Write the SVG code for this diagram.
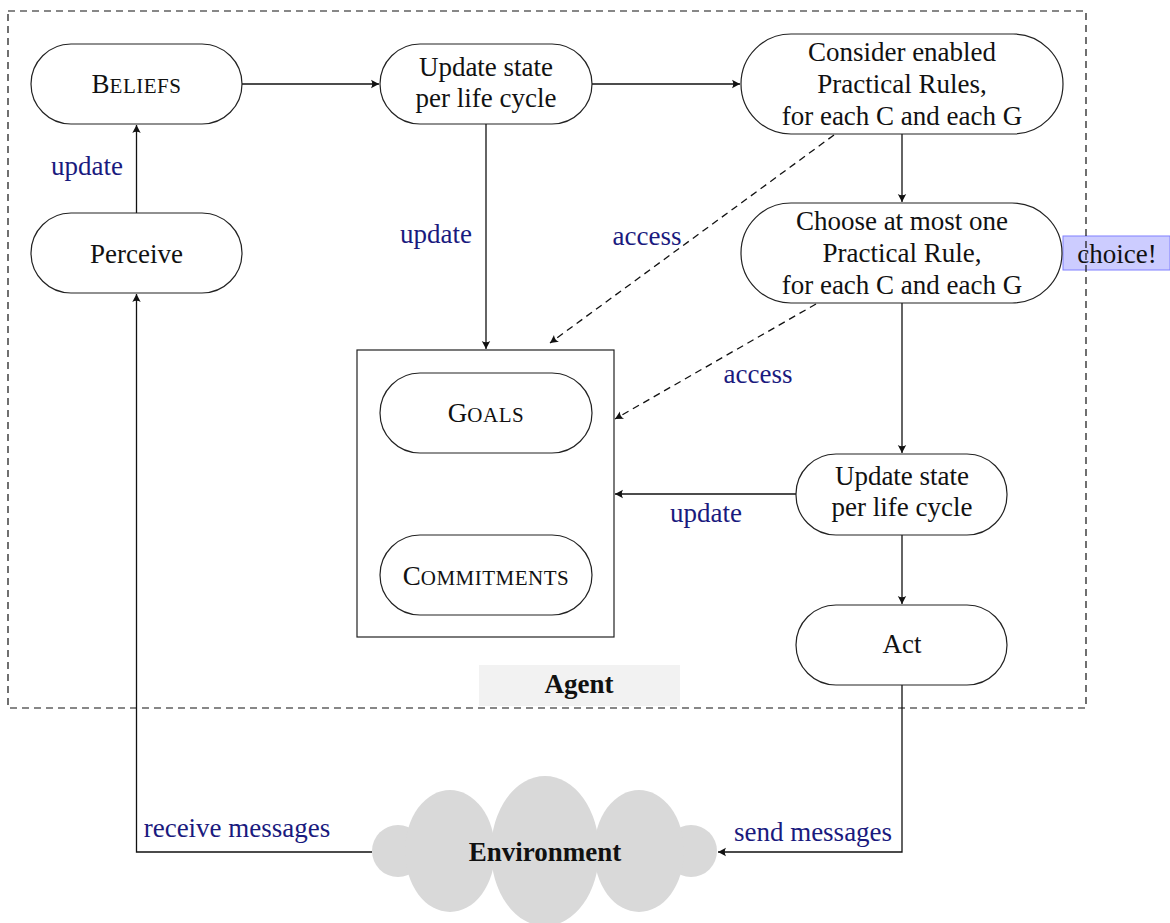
<svg xmlns="http://www.w3.org/2000/svg" width="1170" height="923" viewBox="0 0 1170 923">
<style>
text{font-family:"Liberation Serif","Times New Roman",serif;font-size:27px;fill:#111;text-anchor:middle}
.s{font-size:21px;letter-spacing:0.5px}
.lbl{fill:#1a1a7e}
.b{font-weight:bold}
.node{fill:#fff;stroke:#222;stroke-width:1.2}
.edge{fill:none;stroke:#111;stroke-width:1.3;marker-end:url(#arr)}
.dash{stroke-dasharray:7 5}
.cloud{fill:#d9d9d9}
</style>
<defs>
<marker id="arr" viewBox="-10 -6 12 12" refX="0" refY="0" markerWidth="12" markerHeight="12" markerUnits="userSpaceOnUse" orient="auto">
<path d="M0,0 L-8,-4.2 Q-5.5,0 -8,4.2 Z" fill="#111"/>
</marker>
</defs>
<rect width="1170" height="923" fill="#fff"/>

<g id="agent-frame">
<rect x="479" y="665" width="201" height="41" fill="#f2f2f2"/>
<text x="579" y="693" class="b">Agent</text>
</g>

<g id="choice-tag">
<rect x="1063" y="236" width="107" height="34" fill="#ccccff" stroke="#8080ff" stroke-width="1"/>
<text x="1117" y="263">choice!</text>
</g>

<rect x="8" y="11" width="1078" height="697" fill="none" stroke="#111" stroke-width="1.2" stroke-dasharray="7 5"/>

<g id="connectors">
<line class="edge" x1="242" y1="84" x2="379" y2="84"/>
<line class="edge" x1="592" y1="84" x2="740" y2="84"/>
<line class="edge" x1="902" y1="134" x2="902" y2="202"/>
<line class="edge" x1="136.5" y1="213" x2="136.5" y2="125"/>
<line class="edge" x1="486" y1="124" x2="486" y2="349"/>
<line class="edge dash" x1="834" y1="135" x2="550" y2="343"/>
<line class="edge dash" x1="816" y1="304" x2="615" y2="419"/>
<line class="edge" x1="902" y1="303" x2="902" y2="453"/>
<line class="edge" x1="796" y1="494" x2="615" y2="494"/>
<line class="edge" x1="902" y1="535" x2="902" y2="604"/>
<polyline class="edge" points="902,685 902,852 718,852"/>
<polyline class="edge" points="372,852 136.5,852 136.5,294"/>
<text x="87" y="175" class="lbl">update</text>
<text x="436" y="243" class="lbl">update</text>
<text x="647" y="245" class="lbl">access</text>
<text x="758" y="383" class="lbl">access</text>
<text x="706" y="522" class="lbl">update</text>
<text x="237" y="837" class="lbl">receive messages</text>
<text x="813" y="841" class="lbl">send messages</text>
</g>

<g id="beliefs">
<rect class="node" x="31" y="44" width="211" height="80" rx="40"/>
<text x="136.5" y="93">B<tspan class="s">ELIEFS</tspan></text>
</g>
<g id="perceive">
<rect class="node" x="31" y="213" width="211" height="80" rx="40"/>
<text x="136.5" y="263">Perceive</text>
</g>
<g id="update-top">
<rect class="node" x="380" y="44" width="212" height="80" rx="40"/>
<text x="486" y="76">Update state</text>
<text x="486" y="107">per life cycle</text>
</g>
<g id="consider">
<rect class="node" x="741" y="34" width="322" height="100" rx="50"/>
<text x="902" y="61">Consider enabled</text>
<text x="902" y="93">Practical Rules,</text>
<text x="902" y="125">for each C and each G</text>
</g>
<g id="choose">
<rect class="node" x="741" y="203" width="321" height="100" rx="50"/>
<text x="902" y="230">Choose at most one</text>
<text x="902" y="262">Practical Rule,</text>
<text x="902" y="294">for each C and each G</text>
</g>
<g id="store">
<rect x="357" y="350" width="257" height="287" fill="none" stroke="#222" stroke-width="1.2"/>
</g>
<g id="goals">
<rect class="node" x="380" y="373" width="212" height="80" rx="40"/>
<text x="486" y="422">G<tspan class="s">OALS</tspan></text>
</g>
<g id="commitments">
<rect class="node" x="380" y="535" width="212" height="80" rx="40"/>
<text x="486" y="585">C<tspan class="s">OMMITMENTS</tspan></text>
</g>
<g id="update-bottom">
<rect class="node" x="796" y="454" width="211" height="81" rx="40"/>
<text x="902" y="485">Update state</text>
<text x="902" y="516">per life cycle</text>
</g>
<g id="act">
<rect class="node" x="796" y="605" width="211" height="80" rx="40"/>
<text x="902" y="653">Act</text>
</g>
<g id="environment">
<circle class="cloud" cx="398" cy="851" r="26"/>
<circle class="cloud" cx="691" cy="851" r="26"/>
<ellipse class="cloud" cx="450" cy="851" rx="45" ry="61"/>
<ellipse class="cloud" cx="639" cy="851" rx="45" ry="61"/>
<ellipse class="cloud" cx="545" cy="851" rx="54" ry="75"/>
<text x="545" y="861" class="b">Environment</text>
</g>
</svg>
